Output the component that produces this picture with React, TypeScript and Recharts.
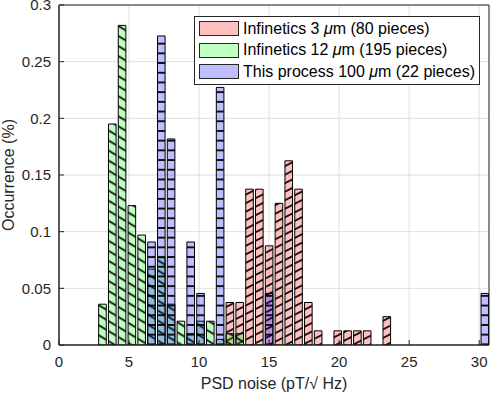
import React from "react";
import { Bar, CartesianGrid, ComposedChart, Label, Legend, ReferenceArea, XAxis, YAxis } from "recharts";

const FONT = "'Liberation Sans', Arial, Helvetica, sans-serif";
const INK = "#262626";

const X_TICKS = [0, 5, 10, 15, 20, 25, 30];
const Y_TICKS = [0, 0.05, 0.1, 0.15, 0.2, 0.25, 0.3];

// bin centres (pT/√Hz) and occurrence for each batch
const PINK_X = [12.21, 12.91, 13.61, 14.31, 15.01, 15.71, 16.41, 17.11, 17.81, 18.51, 19.91, 20.61, 21.31, 22.01, 23.41];
const PINK_Y = [0.0375, 0.0375, 0.1375, 0.1375, 0.0875, 0.125, 0.1625, 0.1375, 0.0375, 0.0125, 0.0125, 0.0125, 0.0125, 0.0125, 0.025];
const GREEN_X = [3.11, 3.81, 4.51, 5.21, 5.91, 6.61, 7.31, 8.01, 8.71, 9.41, 10.11, 10.81, 11.51, 12.21, 12.91];
const GREEN_Y = [0.036, 0.195, 0.282, 0.123, 0.097, 0.067, 0.077, 0.036, 0.021, 0.01, 0.021, 0.021, 0.005, 0.01, 0.01];
const BLUE_X = [6.61, 7.31, 8.01, 9.41, 10.11, 11.51, 15.01, 30.41];
const BLUE_Y = [0.0909, 0.2727, 0.1818, 0.0909, 0.0455, 0.2273, 0.0455, 0.0455];

const SERIES_NAMES = [
  "Infinetics 3 μm (80 pieces)",
  "Infinetics 12 μm (195 pieces)",
  "This process 100 μm (22 pieces)",
];
const SWATCH = ["#ffbfbf", "#bfffbf", "#bfbfff"];

// one row per bin centre, each series in its own column
const rows = new Map<string, Record<string, number>>();
const put = (xs: number[], ys: number[], key: string) =>
  xs.forEach((x, i) => {
    const k = x.toFixed(2);
    const row = rows.get(k) ?? { x };
    row[key] = ys[i];
    rows.set(k, row);
  });
put(PINK_X, PINK_Y, "pink");
put(GREEN_X, GREEN_Y, "green");
put(BLUE_X, BLUE_Y, "blue");
const data = [...rows.values()].sort((a, b) => a.x - b.x);

const X_DOMAIN: [number, number] = [0, 30.7];
const Y_DOMAIN: [number, number] = [0, 0.3];

function Hatches() {
  return (
    <svg width={0} height={0} style={{ position: "absolute" }}>
      <defs>
        <pattern id="hatchPink" patternUnits="userSpaceOnUse" width={10} height={7.6} patternTransform="rotate(-27)">
          <rect width={10} height={7.6} fill="#ff0000" fillOpacity={0.25} />
          <line x1={0} y1={3.8} x2={10} y2={3.8} stroke="#000" strokeWidth={1.7} />
        </pattern>
        <pattern id="hatchGreen" patternUnits="userSpaceOnUse" width={10} height={8.6} patternTransform="rotate(31)">
          <rect width={10} height={8.6} fill="#00ff00" fillOpacity={0.25} />
          <line x1={0} y1={4.3} x2={10} y2={4.3} stroke="#000" strokeWidth={1.7} />
        </pattern>
        <pattern id="hatchBlue" patternUnits="userSpaceOnUse" width={10} height={9.7}>
          <rect width={10} height={9.7} fill="#0000ff" fillOpacity={0.25} />
          <line x1={0} y1={4.85} x2={10} y2={4.85} stroke="#000" strokeWidth={1.8} />
        </pattern>
      </defs>
    </svg>
  );
}

function LegendBox() {
  return (
    <div
      style={{
        border: `1px solid ${INK}`,
        background: "#fff",
        padding: "1px 4px",
        fontFamily: FONT,
        fontSize: 16,
        color: "#000",
      }}
    >
      {SERIES_NAMES.map((name, i) => {
        const [pre, post] = name.split("μ");
        return (
          <div key={name} style={{ display: "flex", alignItems: "center", height: 21.5 }}>
            <span
              style={{
                width: 40,
                height: 15,
                boxSizing: "border-box",
                border: `1px solid ${INK}`,
                background: SWATCH[i],
                marginRight: 4,
                flex: "none",
              }}
            />
            <span style={{ whiteSpace: "nowrap" }}>
              {pre}
              <i>μ</i>
              {post}
            </span>
          </div>
        );
      })}
    </div>
  );
}

export default function App() {
  const tick = { fill: INK, fontSize: 15, fontFamily: FONT };
  const line = { stroke: INK, strokeWidth: 1 };
  return (
    <div style={{ position: "absolute", left: 0, top: 0 }}>
      <Hatches />
      <ComposedChart width={492} height={394} data={data} margin={{ top: 5, right: 3, bottom: 0, left: 0 }}>
        <CartesianGrid xAxisId="p" stroke="#dfdfdf" />
        <XAxis
          xAxisId="p"
          dataKey="x"
          type="number"
          domain={X_DOMAIN}
          ticks={X_TICKS}
          allowDataOverflow
          height={49}
          axisLine={line}
          tickLine={line}
          tickSize={-5}
          tickMargin={16}
          tick={tick}
          interval={0}
        >
          <Label value="PSD noise (pT/√ Hz)" position="insideBottom" offset={5} fill={INK} fontSize={16} fontFamily={FONT} />
        </XAxis>
        <XAxis xAxisId="g" dataKey="x" type="number" domain={X_DOMAIN} allowDataOverflow height={0} hide />
        <XAxis xAxisId="b" dataKey="x" type="number" domain={X_DOMAIN} allowDataOverflow height={0} hide />
        <XAxis
          xAxisId="t"
          orientation="top"
          dataKey="x"
          type="number"
          domain={X_DOMAIN}
          ticks={X_TICKS}
          allowDataOverflow
          height={0}
          axisLine={line}
          tickLine={line}
          tickSize={-5}
          tick={false}
          interval={0}
        />
        <YAxis
          type="number"
          domain={Y_DOMAIN}
          ticks={Y_TICKS}
          allowDataOverflow
          width={59}
          axisLine={line}
          tickLine={line}
          tickSize={-5}
          tickMargin={13}
          tick={tick}
          interval={0}
          tickFormatter={(v: number) => String(v)}
        >
          <Label
            content={({ viewBox }: any) => {
              const vb = viewBox ?? { x: 0, y: 5, width: 59, height: 340 };
              return (
                <text
                  transform={`translate(${vb.x + 13.5},${vb.y + vb.height / 2}) rotate(-90)`}
                  textAnchor="middle"
                  fill={INK}
                  fontSize={16}
                  fontFamily={FONT}
                >
                  Occurrence (%)
                </text>
              );
            }}
          />
        </YAxis>
        <YAxis
          yAxisId="r"
          orientation="right"
          type="number"
          domain={Y_DOMAIN}
          ticks={Y_TICKS}
          allowDataOverflow
          width={0}
          axisLine={line}
          tickLine={line}
          tickSize={-5}
          tick={false}
          interval={0}
        />
        <Bar xAxisId="p" dataKey="pink" barSize={7.6} fill="url(#hatchPink)" stroke="#000" strokeWidth={1} isAnimationActive={false} />
        <Bar xAxisId="g" dataKey="green" barSize={7.6} fill="url(#hatchGreen)" stroke="#000" strokeWidth={1} isAnimationActive={false} />
        <Bar xAxisId="b" dataKey="blue" barSize={7.6} fill="url(#hatchBlue)" stroke="#000" strokeWidth={1} isAnimationActive={false} />
        <ReferenceArea
          xAxisId="p"
          x1={X_DOMAIN[0]}
          x2={X_DOMAIN[1]}
          y1={Y_DOMAIN[0]}
          y2={Y_DOMAIN[1]}
          fill="none"
          stroke={INK}
          strokeWidth={1}
          ifOverflow="visible"
        />
        <Legend
          content={() => <LegendBox />}
          layout="horizontal"
          verticalAlign="middle"
          align="center"
          wrapperStyle={{ left: 194, top: 16, width: "auto", height: "auto" }}
        />
      </ComposedChart>
    </div>
  );
}
